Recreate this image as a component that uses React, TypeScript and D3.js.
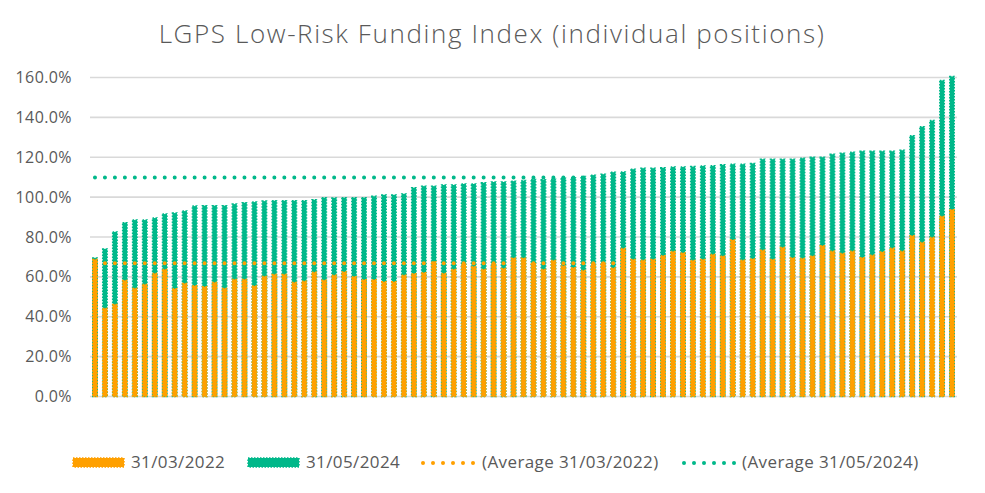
import React from "react";
import * as d3 from "d3";

const title = "LGPS Low-Risk Funding Index (individual positions)";
const seriesNames = ["31/03/2022", "31/05/2024"];
const avgNames = ["(Average 31/03/2022)", "(Average 31/05/2024)"];

const values2024 = [
  69.5, 74, 82.5, 87.2, 88.5, 88.5, 89.5, 91.5, 92, 93,
  95.5, 95.7, 95.7, 95.7, 96.5, 97.2, 97.5, 98, 98.2, 98.2,
  98.2, 98.2, 98.7, 99.7, 99.6, 99.7, 99.7, 99.7, 100.4, 101.1,
  101.1, 101.6, 104.7, 105.5, 105.5, 106.1, 106.1, 106.6, 106.6, 107.2,
  107.6, 107.6, 108, 108.3, 108.9, 108.7, 109, 109.5, 109.7, 110.3,
  111, 111.5, 112.5, 112.6, 114, 114.5, 114.5, 114.7, 115.1, 115.1,
  115.3, 115.6, 115.7, 116.2, 116.5, 116.5, 116.9, 119, 119, 119,
  119, 119.5, 120, 120, 121.5, 122, 122.5, 123, 123, 123,
  123, 123.5, 130.8, 135.3, 138.4, 158.5, 160.5,
];

const values2022 = [
  68.7, 44.2, 46.2, 58.2, 54.2, 56.2, 61.7, 63.7, 54, 56.7,
  55.5, 55, 57.2, 54.2, 58.7, 58.7, 55.4, 60.2, 61.2, 61.2,
  57.2, 57.8, 62.3, 58.3, 60.8, 62.5, 60.1, 58.5, 58.5, 57.5,
  57.5, 60.8, 61.6, 62.1, 67.5, 61.7, 63.7, 66.2, 65.2, 63.7,
  66.2, 64.2, 69.4, 69.4, 66.5, 63.7, 68.2, 65.5, 64.6, 63.2,
  66.2, 66.7, 64.4, 74.2, 68.7, 68.3, 68.7, 70.6, 72.7, 72,
  68.2, 68.7, 71.2, 70.4, 78.5, 68.3, 69, 73.3, 68.7, 74.7,
  69.5, 69.2, 70.4, 75.6, 72.8, 71.7, 72.8, 69.6, 70.8, 72.5,
  74.3, 72.8, 80.6, 77.2, 79.7, 90.3, 93.7,
];

const averages = [66.8, 109.9];
const yTicks = [0, 20, 40, 60, 80, 100, 120, 140, 160];

const ORANGE = "#FFA000";
const GREEN = "#00B88A";
const TEXT = "#595959";
const GRID = "#D9D9D9";
const FONT = "'Open Sans', sans-serif";

const W = 985;
const H = 493;

export default function App() {
  const categories = values2024.map((_, i) => i);
  const x = d3
    .scaleBand<number>()
    .domain(categories)
    .range([90, 957])
    .paddingInner(0.55)
    .paddingOuter(0.275);
  const y = d3.scaleLinear().domain([0, 160]).range([396.5, 77.5]);
  const fmt = d3.format(".1f");
  const step = x.step();
  const bw = x.bandwidth();

  const avgLine = (v: number) =>
    d3
      .line<number>()
      .x((c) => (x(c) as number) + bw / 2)
      .y(() => y(v))(categories) as string;

  const barStroke = {
    strokeWidth: 1.5,
    strokeDasharray: "1.5 1.5",
  };

  const legendY = 462;

  return (
    <div style={{ position: "fixed", left: 0, top: 0 }}>
      <svg width={W} height={H} style={{ display: "block", background: "#fff" }}>
        <text
          x={492}
          y={43}
          textAnchor="middle"
          fontFamily={FONT}
          fontSize={26}
          fontWeight={300}
          letterSpacing={1.6}
          fill={TEXT}
        >
          {title}
        </text>

        {yTicks.map((t) => (
          <g key={t}>
            <line x1={90} x2={957} y1={y(t)} y2={y(t)} stroke={GRID} strokeWidth={1.6} />
            <text
              x={72}
              y={y(t)}
              dy="0.35em"
              textAnchor="end"
              fontFamily={FONT}
              fontSize={16}
              letterSpacing={0.4}
              fill={TEXT}
            >
              {fmt(t) + "%"}
            </text>
          </g>
        ))}

        {values2024.map((v, i) => (
          <rect
            key={"g" + i}
            x={x(i)}
            y={y(v)}
            width={bw}
            height={y(0) - y(v)}
            fill={GREEN}
            stroke={GREEN}
            {...barStroke}
          />
        ))}
        {values2022.map((v, i) => (
          <rect
            key={"o" + i}
            x={x(i)}
            y={y(v)}
            width={bw}
            height={y(0) - y(v)}
            fill={ORANGE}
            stroke={ORANGE}
            {...barStroke}
          />
        ))}

        <path
          d={avgLine(averages[0])}
          fill="none"
          stroke={ORANGE}
          strokeWidth={4}
          strokeLinecap="round"
          strokeDasharray={`0 ${step}`}
        />
        <path
          d={avgLine(averages[1])}
          fill="none"
          stroke={GREEN}
          strokeWidth={4}
          strokeLinecap="round"
          strokeDasharray={`0 ${step}`}
        />

        {/* Legend */}
        <g fontFamily={FONT} fontSize={17} fill={TEXT} letterSpacing={0.4}>
          <rect x={73} y={legendY - 4} width={51} height={9} fill={ORANGE} stroke={ORANGE} {...barStroke} />
          <text x={131} y={legendY} dy="0.35em">{seriesNames[0]}</text>
          <rect x={248} y={legendY - 4} width={51} height={9} fill={GREEN} stroke={GREEN} {...barStroke} />
          <text x={306} y={legendY} dy="0.35em">{seriesNames[1]}</text>
          {d3.range(6).map((k) => (
            <circle key={"lo" + k} cx={423 + k * 10} cy={legendY + 1} r={2} fill={ORANGE} />
          ))}
          <text x={482} y={legendY} dy="0.35em">{avgNames[0]}</text>
          {d3.range(6).map((k) => (
            <circle key={"lg" + k} cx={684 + k * 10} cy={legendY + 1} r={2} fill={GREEN} />
          ))}
          <text x={742} y={legendY} dy="0.35em">{avgNames[1]}</text>
        </g>
      </svg>
    </div>
  );
}
